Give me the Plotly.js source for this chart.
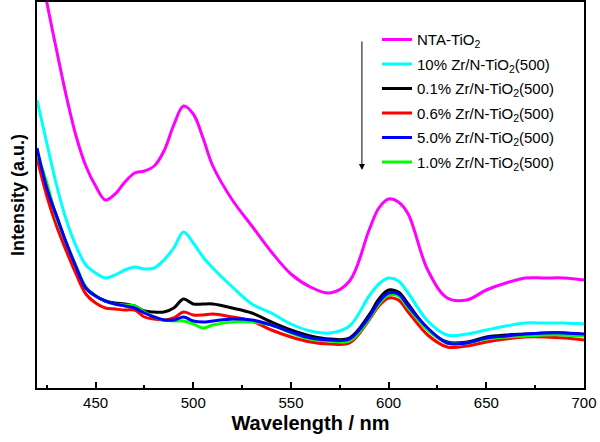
<!DOCTYPE html>
<html>
<head>
<meta charset="utf-8">
<script src="https://cdn.plot.ly/plotly-3.0.1.min.js"></script>
<style>html,body{margin:0;padding:0;background:#fff;}#chart{width:600px;height:442px;}</style>
</head>
<body>
<div id="chart"></div>
<script>
const wavelength = [420,425,430,435,440,445,450,455,460,465,470,475,480,485,490,495,500,505,510,520,530,540,550,560,570,580,590,595,600,605,610,620,630,640,650,660,670,680,690,700];

const ntaTiO2 = [440,386,338,292,252,222,202,188,194,206,215,217,222,237,263,282,274,250,222,188,162,136,114,101,95,107,158,180,189,186,174,118,90,88,98,105,110,110,110,108];
const zr10 = [288,245,203,168,142,123,115,110,113,118,121,119,120,128,140,156,145,131,120,101,84,75,64,57,55,62,92,104,110,107,95,67,53,54,58,62,65,65,65,64];
const zr01 = [236,199,172,145,121,100,92,87,85,84,82,77,76,76,80,89,84,84,84,80,75,66,58,52,49,50,73,89,98,96,84,59,46,46,51,53,54,55,55,53];
const zr06 = [230,192,162,137,114,94,85,80,79,78,78,71,69,68,70,76,73,73,74,71,67,58,51,46,44,45,68,82,90,88,76,53,41,42,46,49,51,51,50,48];
const zr50 = [240,200,172,145,121,100,92,87,84,82,80,75,71,68,68,71,67,66,67,69,68,63,56,50,48,49,71,86,95,94,82,60,45,45,50,52,54,55,55,54];
const zr10b = [235,205,170,145,122,101,92,87,84,83,82,76,71,68,67,67,64,60,63,66,66,63,55,49,47,47,69,84,93,92,80,58,45,45,49,51,52,53,53,52];

const seriesNames = ["NTA-TiO<sub>2</sub>","10% Zr/N-TiO<sub>2</sub>(500)","0.1% Zr/N-TiO<sub>2</sub>(500)","0.6% Zr/N-TiO<sub>2</sub>(500)","5.0% Zr/N-TiO<sub>2</sub>(500)","1.0% Zr/N-TiO<sub>2</sub>(500)"];
const seriesData = [ntaTiO2, zr10, zr01, zr06, zr50, zr10b];
const seriesColors = ["#ff00ff","#00ffff","#000000","#ff0000","#0000ff","#00ff00"];
const drawOrder = [0,1,2,3,5,4];
const xTicks = [450,500,550,600,650,700];

const traces = drawOrder.map(i => ({
  x: wavelength,
  y: seriesData[i],
  type: 'scatter',
  mode: 'lines',
  name: seriesNames[i],
  legendgroup: 'g' + i,
  legendrank: i + 1,
  line: {color: seriesColors[i], width: 3, shape: 'spline', smoothing: 1},
  cliponaxis: true
}));

const layout = {
  width: 600, height: 442,
  margin: {l: 37, r: 16, t: 2, b: 54},
  paper_bgcolor: '#fff', plot_bgcolor: '#fff',
  font: {family: 'Arial, Liberation Sans, sans-serif', color: '#000'},
  showlegend: true,
  legend: {
    x: 0.6216, y: 0.945, xanchor: 'left', yanchor: 'top',
    bgcolor: 'rgba(0,0,0,0)', borderwidth: 0,
    font: {size: 15, family: 'Arial, Liberation Sans, sans-serif'},
    traceorder: 'grouped', tracegroupgap: 2
  },
  xaxis: {
    range: [420, 700],
    tickvals: xTicks,
    ticks: 'inside', ticklen: 6, tickwidth: 2, tickcolor: '#000',
    minor: {dtick: 25, tick0: 425, ticks: 'inside', ticklen: 3, tickwidth: 2, tickcolor: '#000'},
    showline: true, linewidth: 2, linecolor: '#000', mirror: true,
    showgrid: false, zeroline: false,
    tickfont: {size: 15},
    title: {text: '<b>Wavelength / nm</b>', font: {size: 20}, standoff: 6}
  },
  yaxis: {
    range: [0, 386],
    showticklabels: false, ticks: '',
    showline: true, linewidth: 2, linecolor: '#000', mirror: true,
    showgrid: false, zeroline: false,
    title: {text: '<b>Intensity (a.u.)</b>', font: {size: 18}, standoff: 6}
  },
  annotations: [{
    xref: 'paper', yref: 'paper', x: 0.594, y: 0.565,
    ax: 0, ay: -130, axref: 'pixel', ayref: 'pixel',
    showarrow: true, arrowhead: 2, arrowsize: 1.2, arrowwidth: 1, arrowcolor: '#000', text: ''
  }]
};

Plotly.newPlot('chart', traces, layout, {displayModeBar: false, staticPlot: true});
</script>
</body>
</html>
